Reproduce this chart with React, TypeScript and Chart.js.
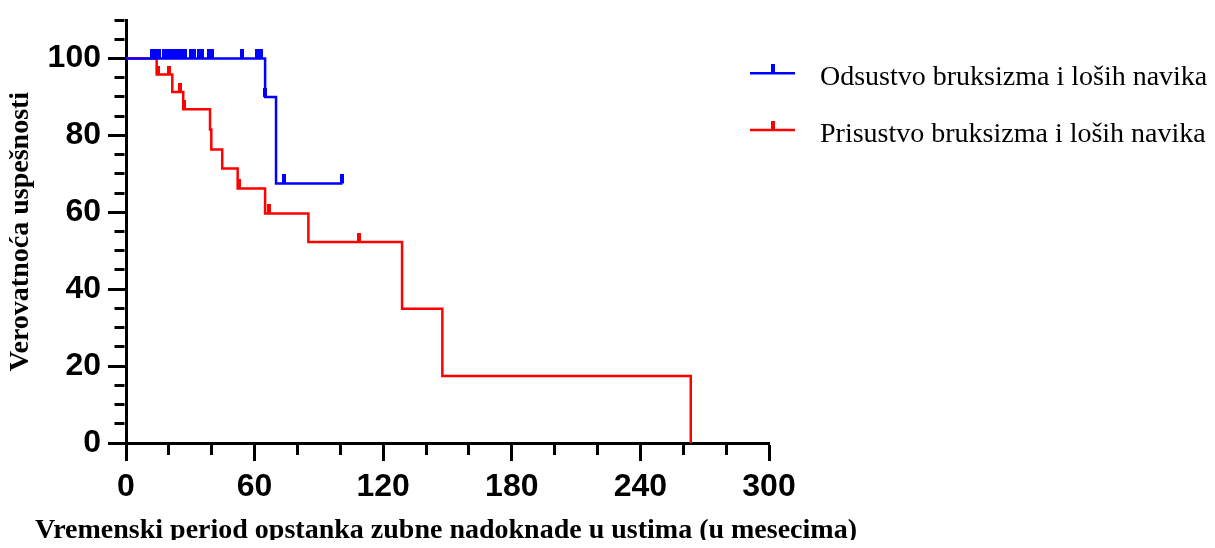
import { useEffect, useRef } from 'react';
import { Chart, registerables } from 'chart.js';

Chart.register(...registerables);

// Axis labels shown on the major ticks
const monthTicks = [0, 60, 120, 180, 240, 300];
const percentTicks = [0, 20, 40, 60, 80, 100];

const seriesLabels = [
  'Odsustvo bruksizma i loših navika',
  'Prisustvo bruksizma i loših navika',
];
const seriesColors = ['#0000ff', '#ff0000'];

// Kaplan–Meier steps: time (months) and survival (%) after each event
const absentTimes = [0, 64.9, 70, 101];
const absentSurvival = [100, 90, 67.5, 67.5];
const absentCensoredTimes = [
  12, 13.5, 15.3, 17.5, 19.2, 21, 22.7, 24.4, 26, 27.5, 30.3, 31.8, 34.1, 35.3,
  38.5, 40, 54, 61, 63, 65, 73.7, 101,
];
const absentCensoredSurvival = [
  100, 100, 100, 100, 100, 100, 100, 100, 100, 100, 100, 100, 100, 100,
  100, 100, 100, 100, 100, 90, 67.5, 67.5,
];

const presentTimes = [0, 14.3, 21.6, 26.7, 39.2, 39.8, 44.9, 52.1, 64.9, 85.1, 128.8, 147.6, 263.5];
const presentSurvival = [100, 95.8, 91.3, 86.8, 81.5, 76.3, 71.4, 66.2, 59.7, 52.3, 34.9, 17.4, 0];
const presentCensoredTimes = [14.7, 19.9, 25, 27, 52.8, 66.9, 108.9];
const presentCensoredSurvival = [95.8, 95.8, 91.3, 86.8, 66.2, 59.7, 52.3];

const xTitle = 'Vremenski period opstanka zubne nadoknade u ustima (u mesecima)';
const yTitle = 'Verovatnoća uspešnosti';

// Canvas geometry
const WIDTH = 1199;
const HEIGHT = 540;
const Y_AXIS_WIDTH = 118;
const X_AXIS_HEIGHT = 105;
const X_TITLE_CENTER = 438;
const X_TITLE_BASELINE = 530;

const LINE_WIDTH = 2.5;
const SERIF = '"Liberation Serif", "Times New Roman", serif';

function toPoints(xs: number[], ys: number[]) {
  return xs.map((x, i) => ({ x, y: ys[i] }));
}

// Small vertical tick drawn above the curve for censored observations
function makeCensorMark(color: string) {
  const c = document.createElement('canvas');
  c.width = 4;
  c.height = 18;
  const g = c.getContext('2d')!;
  g.fillStyle = color;
  g.fillRect(0, 0, 4, 9);
  return c;
}

const legendLayout = {
  lineStart: 742,
  lineEnd: 787,
  textX: 812,
  lineY: [65.3, 122],
  baselineY: [76.5, 133.5],
};

// Series key on the right and the horizontal axis title
const annotationsPlugin = {
  id: 'seriesKey',
  afterDraw(chart: any) {
    const ctx: CanvasRenderingContext2D = chart.ctx;
    const marks: HTMLCanvasElement[] = chart.$censorMarks || [];
    ctx.save();
    seriesLabels.forEach((label, i) => {
      const ly = legendLayout.lineY[i];
      ctx.strokeStyle = seriesColors[i];
      ctx.lineWidth = LINE_WIDTH;
      ctx.beginPath();
      ctx.moveTo(legendLayout.lineStart, ly);
      ctx.lineTo(legendLayout.lineEnd, ly);
      ctx.stroke();
      const mark = marks[i];
      if (mark) {
        const cx = (legendLayout.lineStart + legendLayout.lineEnd) / 2;
        ctx.drawImage(mark, cx - mark.width / 2, ly - mark.height / 2);
      }
      ctx.fillStyle = '#000';
      ctx.font = `28px ${SERIF}`;
      ctx.textAlign = 'left';
      ctx.textBaseline = 'alphabetic';
      ctx.fillText(label, legendLayout.textX, legendLayout.baselineY[i]);
    });
    ctx.font = `bold 28px ${SERIF}`;
    ctx.fillStyle = '#000';
    ctx.textAlign = 'center';
    ctx.textBaseline = 'alphabetic';
    ctx.fillText(xTitle, X_TITLE_CENTER, X_TITLE_BASELINE);
    ctx.restore();
  },
};

const tickFont = { family: '"Liberation Sans", Arial, sans-serif', weight: 'bold' as const, size: 32 };

export default function App() {
  const ref = useRef<HTMLCanvasElement>(null);

  useEffect(() => {
    const marks = seriesColors.map(makeCensorMark);

    const chart = new Chart(ref.current!, {
      type: 'line',
      data: {
        datasets: [
          {
            label: seriesLabels[0],
            data: toPoints(absentTimes, absentSurvival),
            borderColor: seriesColors[0],
            borderWidth: LINE_WIDTH,
            stepped: true,
            pointRadius: 0,
            fill: false,
          },
          {
            type: 'scatter',
            label: seriesLabels[0] + ' (cenzurisano)',
            data: toPoints(absentCensoredTimes, absentCensoredSurvival),
            pointStyle: marks[0],
            pointRadius: 3,
            showLine: false,
          },
          {
            label: seriesLabels[1],
            data: toPoints(presentTimes, presentSurvival),
            borderColor: seriesColors[1],
            borderWidth: LINE_WIDTH,
            stepped: true,
            pointRadius: 0,
            fill: false,
          },
          {
            type: 'scatter',
            label: seriesLabels[1] + ' (cenzurisano)',
            data: toPoints(presentCensoredTimes, presentCensoredSurvival),
            pointStyle: marks[1],
            pointRadius: 3,
            showLine: false,
          },
        ] as any,
      },
      options: {
        responsive: false,
        animation: false,
        events: [],
        layout: { padding: { top: 12, right: 438, bottom: 0, left: 0 } },
        plugins: {
          legend: { display: false },
          tooltip: { enabled: false },
        },
        scales: {
          x: {
            type: 'linear',
            min: 0,
            max: 300,
            afterFit: (s: any) => {
              s.height = X_AXIS_HEIGHT;
              s.paddingLeft = 0;
              s.paddingRight = 0;
            },
            border: { display: true, color: '#000', width: 3 },
            grid: {
              drawOnChartArea: false,
              drawTicks: true,
              tickLength: 18,
              tickWidth: 3,
              tickColor: '#000',
              // minor ticks: only the first 10px next to the axis line
              tickBorderDash: (c: any) => (monthTicks.includes(c.tick?.value) ? [] : [10, 100]),
            },
            ticks: {
              stepSize: 20,
              autoSkip: false,
              maxRotation: 0,
              minRotation: 0,
              padding: 7,
              color: '#000',
              font: tickFont,
              callback: (v: any) => (monthTicks.includes(Number(v)) ? String(v) : ''),
            },
            title: { display: false },
          },
          y: {
            type: 'linear',
            min: 0,
            max: 110,
            afterFit: (s: any) => {
              s.width = Y_AXIS_WIDTH;
              s.paddingTop = 0;
              s.paddingBottom = 0;
            },
            border: { display: true, color: '#000', width: 3 },
            grid: {
              drawOnChartArea: false,
              drawTicks: true,
              tickLength: 18,
              tickWidth: 3,
              tickColor: '#000',
              // left ticks are stroked from the outer end, so skip the outer 6.5px
              tickBorderDash: (c: any) => (percentTicks.includes(c.tick?.value) ? [] : [10, 100]),
              tickBorderDashOffset: (c: any) => (percentTicks.includes(c.tick?.value) ? 0 : 103.5),
            },
            ticks: {
              stepSize: 5,
              autoSkip: false,
              padding: 7,
              color: '#000',
              font: tickFont,
              callback: (v: any) => (percentTicks.includes(Number(v)) ? String(v) : ''),
            },
            title: {
              display: true,
              text: yTitle,
              color: '#000',
              font: { family: SERIF, weight: 'bold', size: 28, lineHeight: 0.9 },
              padding: 0,
            },
          },
        },
      } as any,
      plugins: [
        {
          id: 'censorMarks',
          beforeInit(chart: any) {
            chart.$censorMarks = marks;
          },
        },
        annotationsPlugin,
      ],
    });

    return () => chart.destroy();
  }, []);

  return (
    <canvas
      ref={ref}
      width={WIDTH}
      height={HEIGHT}
      style={{ display: 'block', width: WIDTH, height: HEIGHT, marginBottom: -8 }}
    />
  );
}
